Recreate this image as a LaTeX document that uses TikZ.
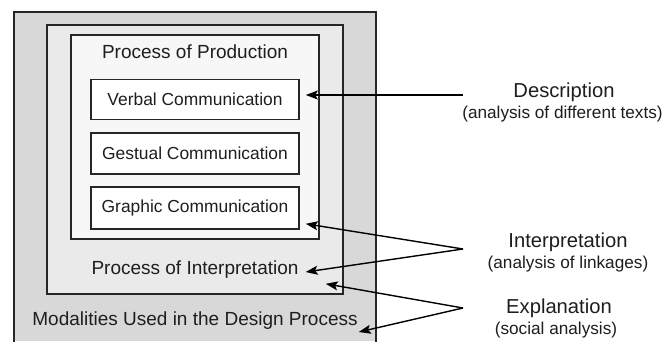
\documentclass[tikz,border=0pt]{standalone}
\usepackage{fontspec}
\setmainfont{Liberation Sans}
\usetikzlibrary{arrows.meta,calc}
\definecolor{outerfill}{RGB}{216,216,216}
\definecolor{midfill}{RGB}{234,234,234}
\definecolor{innerfill}{RGB}{247,247,247}
\definecolor{linecol}{RGB}{38,38,38}
\definecolor{textcol}{RGB}{30,30,30}
\begin{document}
\begin{tikzpicture}[x=1pt,y=-1pt,
  frame/.style={draw=linecol,line width=1.6pt,inner sep=0pt},
  commbox/.style={frame,fill=white,minimum width=208pt,minimum height=40pt,
    font=\fontsize{17.4}{20}\selectfont,text=textcol},
  heading/.style={inner sep=0pt,anchor=base,font=\fontsize{19}{22}\selectfont,text=textcol},
  rtitle/.style={inner sep=0pt,anchor=base,font=\fontsize{20.2}{23}\selectfont,text=textcol},
  rsub/.style={inner sep=0pt,anchor=base,font=\fontsize{17.2}{20}\selectfont,text=textcol},
  pointer/.style={draw=black,line width=1.4pt,-{Stealth[length=12pt,width=9pt,inset=2.5pt]}}]
\useasboundingbox (0,0) rectangle (665,341);
\fill[white] (0,0) rectangle (665,341);
% outer box (runs off the bottom edge)
\fill[outerfill] (14,12) rectangle (376,341);
\draw[linecol,line width=1.6pt] (14,342) -- (14,12) -- (376,12) -- (376,342);
\node[frame,fill=midfill,minimum width=296pt,minimum height=269pt] (mid) at (195,159.5) {};
\node[frame,fill=innerfill,minimum width=248pt,minimum height=204pt] (inner) at (195,137) {};
\node[commbox] (verbal) at (195,99.5) {Verbal Communication};
\node[commbox,minimum height=41pt] (gestual) at (195,153.5) {Gestual Communication};
\node[commbox,minimum height=42pt] (graphic) at (195,208) {Graphic Communication};
\node[heading] (prod) at (195,58) {Process of Production};
\node[heading] (interp) at (195,274) {Process of Interpretation};
\node[heading] (modal) at (195,325) {Modalities Used in the Design Process};
% right-hand labels
\node[rtitle] (desc) at (564,97) {Description};
\node[rsub] (descsub) at (562.5,118) {(analysis of different texts)};
\node[rtitle] (interpt) at (568,247) {Interpretation};
\node[rsub] (interpsub) at (568,268) {(analysis of linkages)};
\node[rtitle] (expl) at (559,313) {Explanation};
\node[rsub] (explsub) at (556,334) {(social analysis)};
\coordinate (descsrc) at (463,95);
\coordinate (interpsrc) at (463,249);
\coordinate (explsrc) at (463,308);
% connectors
\draw[pointer] (descsrc) -- ($(verbal.east)+(6,-4.5)$);
\draw[pointer] (interpsrc) -- ($(graphic.south east)+(6,-6)$);
\draw[pointer] (interpsrc) -- ($(interp.base east)+(7,-2)$);
\draw[pointer] (explsrc) -- ($(mid.south east)+(-18,-11)$);
\draw[pointer] (explsrc) -- ($(modal.base east)+(1,7)$);
\end{tikzpicture}
\end{document}
